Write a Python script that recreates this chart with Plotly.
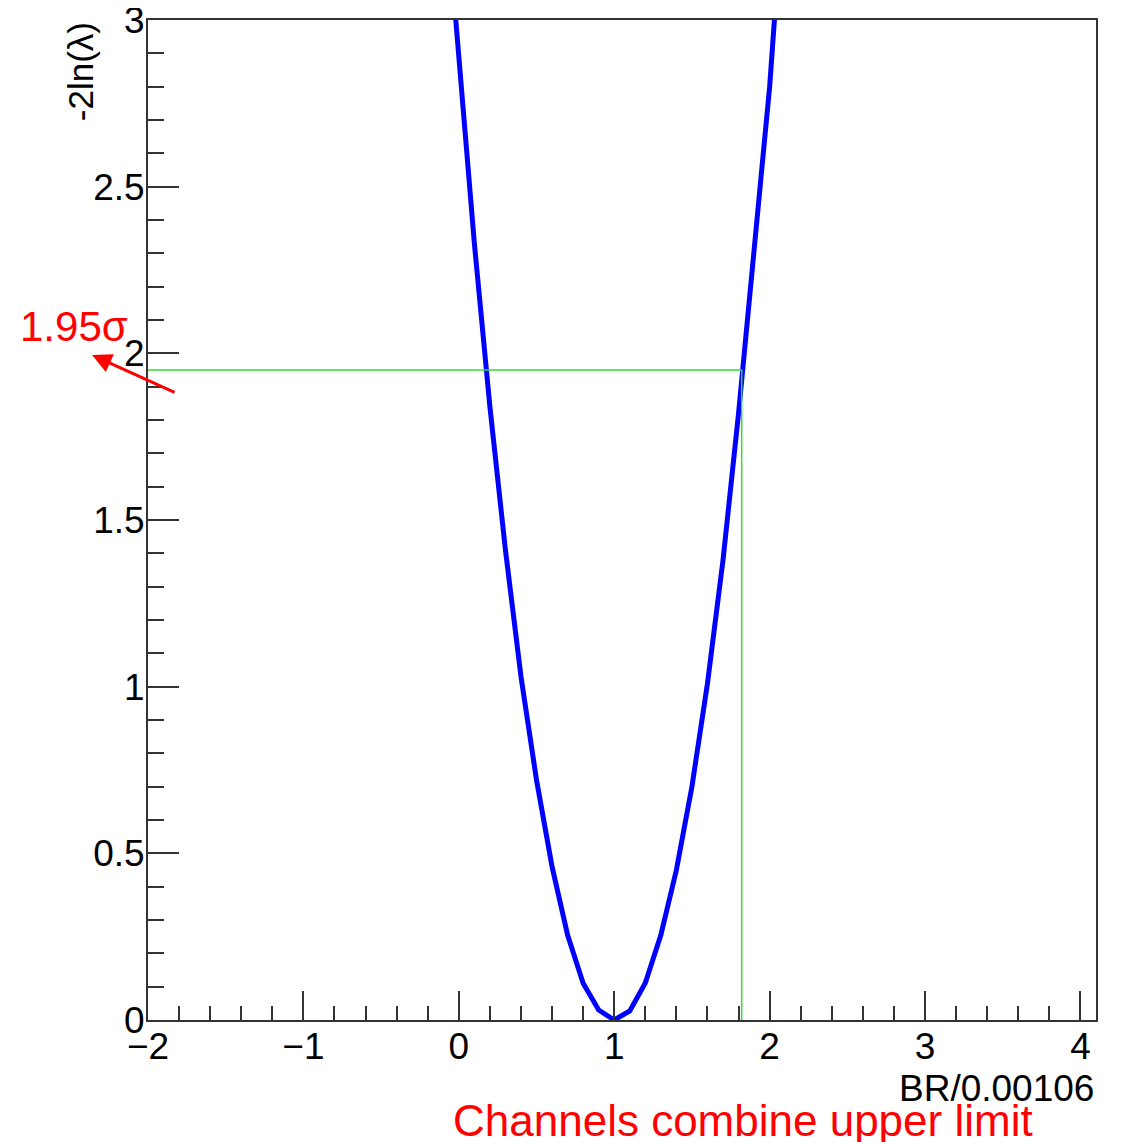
import plotly.graph_objects as go

# Data
br_values = [-0.1, 0.0, 0.1, 0.2, 0.3, 0.4, 0.5, 0.6, 0.7, 0.8, 0.9, 1.0,
             1.1, 1.2, 1.3, 1.4, 1.5, 1.6, 1.7, 1.8, 1.9, 2.0, 2.1]
nll_values = [3.45, 2.87, 2.33, 1.84, 1.41, 1.03, 0.72, 0.46, 0.255, 0.11, 0.03, 0.0,
              0.027, 0.111, 0.255, 0.45, 0.70, 1.01, 1.38, 1.82, 2.31, 2.80, 3.45]
upper_limit = 1.82
sigma_level = 1.95
x_min, x_max = -2.0, 4.1
y_min, y_max = 0.0, 3.0
x_ticks = [-2, -1, 0, 1, 2, 3, 4]
y_ticks = [0, 0.5, 1, 1.5, 2, 2.5, 3]

FONT = "Liberation Sans, Arial, sans-serif"
AX = "#333333"

fig = go.Figure()
fig.add_trace(go.Scatter(
    x=br_values, y=nll_values, mode="lines",
    line=dict(color="#0000ff", width=5), showlegend=False, hoverinfo="skip"))
fig.add_trace(go.Scatter(
    x=[x_min, upper_limit, upper_limit], y=[sigma_level, sigma_level, y_min],
    mode="lines", line=dict(color="#33dd33", width=1.5),
    showlegend=False, hoverinfo="skip"))

fig.update_layout(
    width=1114, height=1134,
    margin=dict(l=140, r=26, t=12, b=122, autoexpand=False),
    paper_bgcolor="white", plot_bgcolor="white",
    font=dict(family=FONT, size=36, color="black"),
    xaxis=dict(range=[x_min, x_max], tickvals=x_ticks, ticks="inside", ticklen=29,
               tickwidth=1.5, tickcolor=AX, showline=True, linecolor=AX, linewidth=2,
               mirror=True, showgrid=False, zeroline=False, automargin=False,
               ticklabelstandoff=-7, ticklabeloverflow="allow",
               tickfont=dict(size=37, family=FONT),
               minor=dict(ticks="inside", ticklen=14, dtick=0.2, tickcolor=AX,
                          tickwidth=1.5, showgrid=False)),
    yaxis=dict(range=[y_min, y_max], tickvals=y_ticks, ticks="inside", ticklen=31,
               tickwidth=1.5, tickcolor=AX, showline=True, linecolor=AX, linewidth=2,
               mirror=True, showgrid=False, zeroline=False, automargin=False,
               ticklabelstandoff=-6, ticklabeloverflow="allow",
               tickfont=dict(size=37, family=FONT),
               minor=dict(ticks="inside", ticklen=16, dtick=0.1, tickcolor=AX,
                          tickwidth=1.5, showgrid=False)),
)

# axis titles (ROOT style)
fig.add_annotation(text="-2ln(λ)", xref="paper", yref="paper", x=-0.071, y=1.0,
                   xanchor="center", yanchor="top", textangle=-90, showarrow=False,
                   font=dict(size=35, family=FONT, color="black"))
fig.add_annotation(text="BR/0.00106", xref="paper", yref="paper", x=1.0, y=-0.046,
                   xanchor="right", yanchor="top", showarrow=False,
                   font=dict(size=37, family=FONT, color="black"))

# red annotations
fig.add_annotation(text="1.95σ", xref="paper", yref="paper", x=-0.137, y=0.694,
                   xanchor="left", yanchor="middle", showarrow=False,
                   font=dict(size=42, family=FONT, color="#ff0000"))
fig.add_annotation(text="", xref="paper", yref="paper", x=-0.059, y=0.665,
                   ax=84, ay=38, showarrow=True, arrowhead=2, arrowsize=1.3,
                   arrowwidth=3, arrowcolor="#ff0000")
fig.add_annotation(text="Channels combine upper limit", xref="paper", yref="paper",
                   x=0.3196, y=-0.074, xanchor="left", yanchor="top", showarrow=False,
                   font=dict(size=44, family=FONT, color="#ff0000"))

fig.write_html("out.html")
